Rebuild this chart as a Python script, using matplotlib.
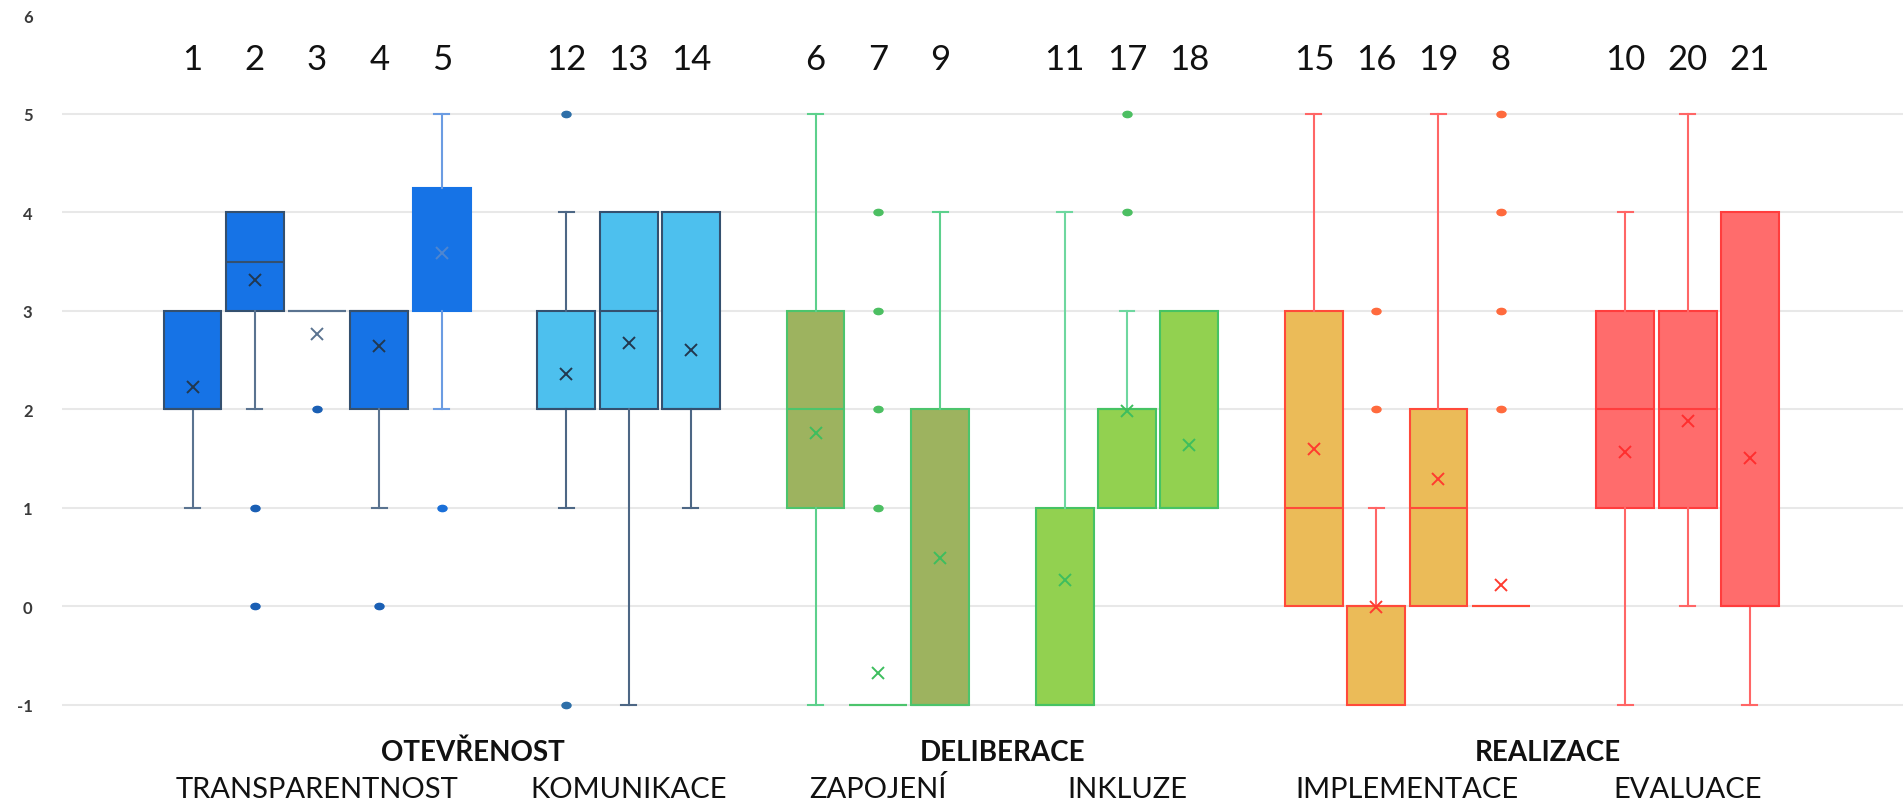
import matplotlib
matplotlib.use("Agg")
import matplotlib.pyplot as plt
from matplotlib.markers import MarkerStyle
from matplotlib.transforms import Affine2D, blended_transform_factory

plt.rcParams["font.family"] = ["Lato", "DejaVu Sans"]

# Items in drawing order, grouped by sub-dimension
item_labels = ["1", "2", "3", "4", "5",
               "12", "13", "14",
               "6", "7", "9",
               "11", "17", "18",
               "15", "16", "19", "8",
               "10", "20", "21"]
group_sizes = [5, 3, 3, 3, 4, 3]
subgroup_names = ["TRANSPARENTNOST", "KOMUNIKACE", "ZAPOJENÍ",
                  "INKLUZE", "IMPLEMENTACE", "EVALUACE"]
dimension_names = ["OTEVŘENOST", "DELIBERACE", "REALIZACE"]

# Box statistics per item
q1 = [2, 3, 3, 2, 3,
      2, 2, 2,
      1, -1, -1,
      -1, 1, 1,
      0, -1, 0, 0,
      1, 1, 0]
median = [2, 3.5, 3, 3, 4,
          2, 3, 2,
          2, -1, -1,
          -1, 2, 1,
          1, 0, 1, 0,
          2, 2, 0]
q3 = [3, 4, 3, 3, 4.25,
      3, 4, 4,
      3, -1, 2,
      1, 2, 3,
      3, 0, 2, 0,
      3, 3, 4]
whisker_low = [1, 2, 3, 1, 2,
               1, -1, 1,
               -1, -1, -1,
               -1, 1, 1,
               0, -1, 0, 0,
               -1, 0, -1]
whisker_high = [3, 4, 3, 3, 5,
                4, 4, 4,
                5, -1, 4,
                4, 3, 3,
                5, 1, 5, 0,
                4, 5, 4]
means = [2.23, 3.31, 2.76, 2.64, 3.59,
         2.36, 2.67, 2.60,
         1.76, -0.68, 0.49,
         0.27, 1.98, 1.64,
         1.60, -0.01, 1.29, 0.22,
         1.57, 1.88, 1.51]
outliers = [[], [1, 0], [2], [0], [1],
            [5, -1], [], [],
            [], [1, 2, 3, 4], [],
            [], [4, 5], [],
            [], [2, 3], [], [2, 3, 4, 5],
            [], [], []]
y_ticks = [-1, 0, 1, 2, 3, 4, 5, 6]

# Colour scheme for each sub-dimension
group_styles = [
    dict(face="#1673E6", edge="#34506F", whisker="#5A7390", flier="#1A5FB4", mean="#22384F"),
    dict(face="#4DC0EE", edge="#34506F", whisker="#4D6785", flier="#2E6FA8", mean="#22384F"),
    dict(face="#9DB35F", edge="#4CC46C", whisker="#5DD08C", flier="#4CBF62", mean="#3DBE5E"),
    dict(face="#92D150", edge="#46C363", whisker="#6ED79F", flier="#4CBF62", mean="#3DBE5E"),
    dict(face="#EBBB58", edge="#FF4A3A", whisker="#FF6666", flier="#FF6A3D", mean="#FF3B2F"),
    dict(face="#FF6C6C", edge="#FF3D3D", whisker="#FF6666", flier="#FF6A3D", mean="#FF2E2E"),
]
item_style_overrides = {
    "3": dict(edge="#5A7390", mean="#5A7390"),
    "5": dict(edge="#1673E6", whisker="#6B9CE2", flier="#1A6FD8", mean="#4F86D0"),
}

# Slot positions: one empty slot between sub-dimensions
positions, group_of_item, group_centers = [], [], []
slot = 0
for g, size in enumerate(group_sizes):
    group_centers.append(slot + (size - 1) / 2)
    for k in range(size):
        positions.append(slot + k)
        group_of_item.append(g)
    slot += size + 1

W, H = 1903, 804
fig = plt.figure(figsize=(W / 100, H / 100), dpi=100)
ax = fig.add_axes([61.7 / W, 1 - 715.6 / H, (1902.6 - 61.7) / W, (715.6 - 16.3) / H])

flier_marker = MarkerStyle("o", transform=Affine2D().scale(1.45, 1.0))

for i, lab in enumerate(item_labels):
    st = dict(group_styles[group_of_item[i]])
    st.update(item_style_overrides.get(lab, {}))
    stats = dict(q1=q1[i], med=median[i], q3=q3[i],
                 whislo=whisker_low[i], whishi=whisker_high[i],
                 mean=means[i], fliers=outliers[i])
    parts = ax.bxp([stats], positions=[positions[i]], widths=0.93, capwidths=0.24,
                   patch_artist=True, showmeans=True, meanline=False,
                   boxprops=dict(facecolor=st["face"], edgecolor=st["edge"], linewidth=1.5),
                   whiskerprops=dict(color=st["whisker"], linewidth=1.5),
                   capprops=dict(color=st["whisker"], linewidth=1.5),
                   medianprops=dict(color=st["edge"], linewidth=1.5),
                   meanprops=dict(marker="x", markersize=9, markeredgewidth=1.4,
                                  markeredgecolor=st["mean"], markerfacecolor="none"),
                   flierprops=dict(marker=flier_marker, markersize=4.5,
                                   markerfacecolor=st["flier"], markeredgecolor=st["flier"]),
                   manage_ticks=False)
    # no cap where a whisker has zero length
    if whisker_low[i] == q1[i]:
        parts["caps"][0].set_visible(False)
    if whisker_high[i] == q3[i]:
        parts["caps"][1].set_visible(False)

ax.set_xlim(-2.1, 27.45)
ax.set_ylim(-1.1, 6.0)
ax.set_yticks(y_ticks)
ax.set_yticklabels([str(v) for v in y_ticks], fontsize=12, fontweight="bold", color="#3a3a3a")
ax.set_xticks([])
ax.tick_params(axis="y", length=0, pad=21)
for s in ax.spines.values():
    s.set_visible(False)
ax.set_axisbelow(True)
ax.yaxis.grid(True, color="#e8e8e8", linewidth=1.5)
ax.get_ygridlines()[-1].set_visible(False)

trans = blended_transform_factory(ax.transData, fig.transFigure)
for lab, x in zip(item_labels, positions):
    ax.text(x, 1 - 70 / H, lab, transform=trans, ha="center", va="baseline",
            fontsize=25, color="#111111")

for name, x in zip(subgroup_names, group_centers):
    ax.text(x, 1 - 798 / H, name, transform=trans, ha="center", va="baseline",
            fontsize=21, color="#111111")

for d, name in enumerate(dimension_names):
    x = (group_centers[2 * d] + group_centers[2 * d + 1]) / 2
    ax.text(x, 1 - 761.5 / H, name, transform=trans, ha="center", va="baseline",
            fontsize=20, fontweight="bold", color="#111111")

fig.savefig("out.png", dpi=100)
